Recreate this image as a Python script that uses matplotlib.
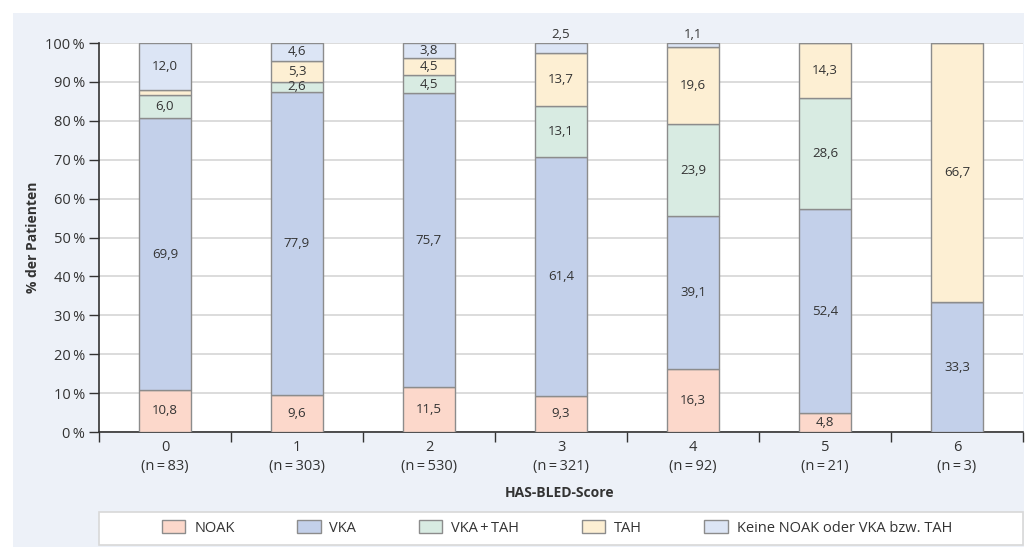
import matplotlib
matplotlib.use('Agg')
import matplotlib.pyplot as plt
from matplotlib.patches import Rectangle
import numpy as np

plt.rcParams['font.family'] = ['Open Sans', 'DejaVu Sans']

scores = ['0', '1', '2', '3', '4', '5', '6']
n_patients = [83, 303, 530, 321, 92, 21, 3]

series = ['NOAK', 'VKA', 'VKA\u2009+\u2009TAH', 'TAH', 'Keine NOAK oder VKA bzw. TAH']
noak = [10.8, 9.6, 11.5, 9.3, 16.3, 4.8, 0.0]
vka = [69.9, 77.9, 75.7, 61.4, 39.1, 52.4, 33.3]
vka_tah = [6.0, 2.6, 4.5, 13.1, 23.9, 28.6, 0.0]
tah = [1.3, 5.3, 4.5, 13.7, 19.6, 14.3, 66.7]
keine = [12.0, 4.6, 3.8, 2.5, 1.1, 0.0, 0.0]

colors = ['#fcd8cb', '#c3d0ea', '#d8ebe2', '#fdefd3', '#dce5f5']
edge = '#8c8c8c'
panel = '#edf1f8'
text_col = '#333333'

fig = plt.figure(figsize=(10.29, 5.47), dpi=100)
fig.patches.append(Rectangle((13 / 1029, 0), (1024 - 13) / 1029, 1 - 13 / 547,
                             transform=fig.transFigure, facecolor=panel,
                             edgecolor='none', zorder=-2))

ax = fig.add_axes([99 / 1029, 1 - 432 / 547, (1023 - 99) / 1029, (432 - 43) / 547])
ax.set_facecolor('white')

x = np.arange(len(scores))
width = 0.40
bottom = np.zeros(len(scores))
stack = [noak, vka, vka_tah, tah, keine]
for vals, col, name in zip(stack, colors, series):
    vals = np.array(vals)
    ax.bar(x, vals, width, bottom=bottom, color=col, edgecolor=edge,
           linewidth=1.0, label=name, zorder=3)
    for i, v in enumerate(vals):
        if v < 1.0:
            continue
        lbl = f'{v:.1f}'.replace('.', ',')
        if v < 1.5 and bottom[i] + v < 99.5:
            # thin TAH slice at score 0 carries no label
            continue
        if bottom[i] + v > 99.5 and v < 3.0:
            ax.text(x[i], 100.6, lbl, ha='center', va='bottom', fontsize=9.5,
                    color=text_col, clip_on=False)
        else:
            ax.text(x[i], bottom[i] + v / 2, lbl, ha='center', va='center',
                    fontsize=9.5, color=text_col, zorder=4)
    bottom += vals

ax.set_xlim(-0.5, 6.5)
ax.set_ylim(0, 100)
ax.set_yticks(np.arange(0, 101, 10))
ax.set_yticklabels([f'{v}\u2009%' for v in range(0, 101, 10)], fontsize=10.5,
                   color=text_col)
ax.yaxis.grid(True, color='#d6d6d6', linewidth=1.2, zorder=0)
ax.set_axisbelow(True)

ax.set_xticks(x)
ax.set_xticklabels([f'{s}\n(n\u2009=\u2009{n})' for s, n in zip(scores, n_patients)],
                   fontsize=10.5, color=text_col, linespacing=1.3)
ax.set_xticks(np.arange(-0.5, 7, 1), minor=True)
ax.tick_params(axis='x', which='major', length=0, pad=6)
ax.tick_params(axis='x', which='minor', length=7, width=1, color='#333333', direction='out')
ax.tick_params(axis='y', length=7, width=1, color='#333333', pad=3)

for s in ['top', 'right']:
    ax.spines[s].set_visible(False)
for s in ['left', 'bottom']:
    ax.spines[s].set_color('#333333')
    ax.spines[s].set_linewidth(1.2)

ax.set_ylabel('% der Patienten', fontsize=10, fontweight='bold', color=text_col)
ax.yaxis.set_label_coords(-0.064, 0.5)
fig.text(560 / 1029, 1 - 493 / 547, 'HAS-BLED-Score', ha='center', va='center',
         fontsize=10, fontweight='bold', color=text_col)

# legend box under the axis title
fig.patches.append(Rectangle((99 / 1029, 2 / 547), (1023 - 99) / 1029, 33 / 547,
                             transform=fig.transFigure, facecolor='white',
                             edgecolor='#d8d8d8', linewidth=1.2, zorder=-1))
handles, labels = ax.get_legend_handles_labels()
leg = fig.legend(handles, labels, ncol=5, loc='center',
                 bbox_to_anchor=(557 / 1029, 1 - 528 / 547), frameon=False,
                 fontsize=10.5, handlelength=1.6, handleheight=0.9,
                 handletextpad=0.6, columnspacing=4.3)
for t in leg.get_texts():
    t.set_color(text_col)

fig.savefig('out.png', dpi=100, facecolor='white')
